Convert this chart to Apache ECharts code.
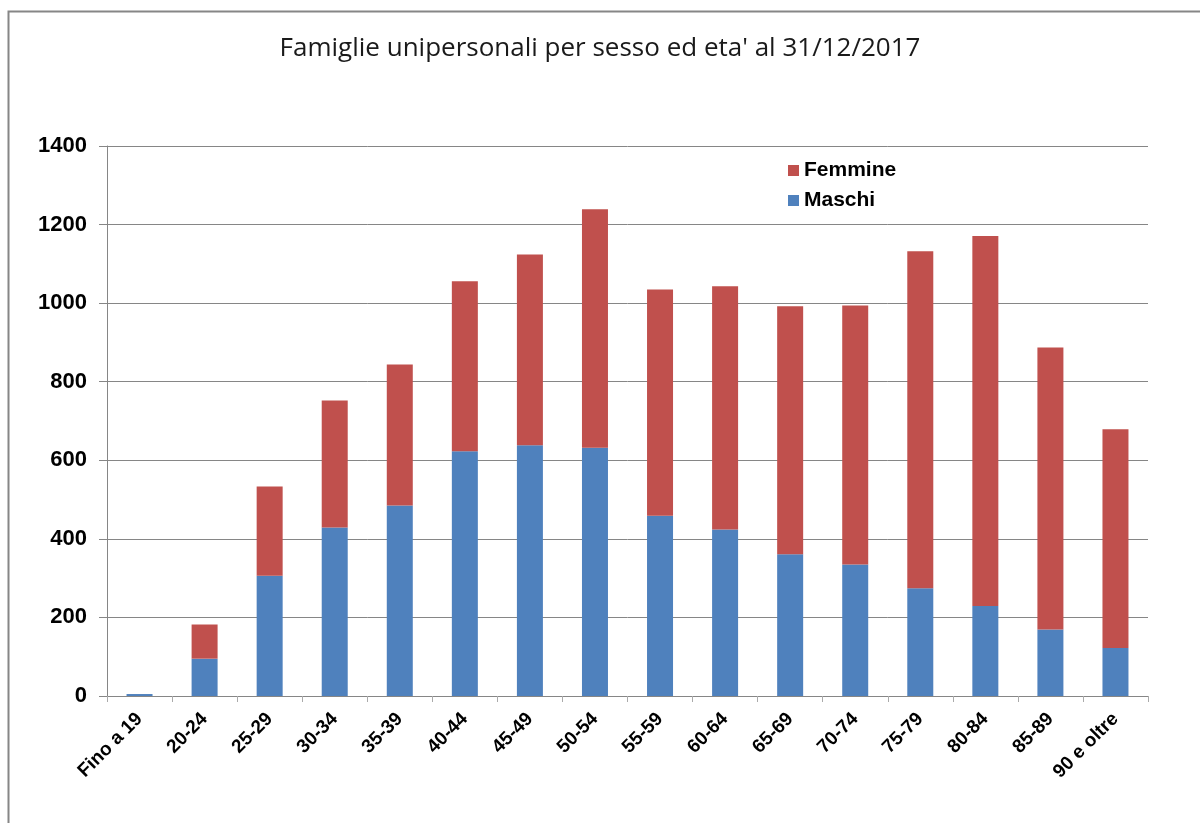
<!DOCTYPE html>
<html>
<head>
<meta charset="utf-8">
<script src="https://cdn.jsdelivr.net/npm/echarts@6/dist/echarts.min.js"></script>
<style>
  html, body { margin: 0; padding: 0; background: #fff; }
  #main { width: 1200px; height: 823px; }
</style>
</head>
<body>
<div id="main"></div>
<script>
const categories = ["Fino a 19", "20-24", "25-29", "30-34", "35-39", "40-44", "45-49", "50-54",
  "55-59", "60-64", "65-69", "70-74", "75-79", "80-84", "85-89", "90 e oltre"];
const maschi = [5, 95, 306, 429, 485, 623, 638, 632, 459, 424, 361, 335, 274, 229, 169, 122];
const femmine = [0, 87, 227, 323, 359, 433, 486, 607, 576, 619, 631, 659, 858, 942, 718, 557];
const yTicks = [0, 200, 400, 600, 800, 1000, 1200, 1400];

const chartDom = document.getElementById("main");
const myChart = echarts.init(chartDom, null, { renderer: "canvas" });

const gridColor = "#868686";
const labelFont = "'Liberation Sans', Arial, sans-serif";

let option = {
  animation: false,
  backgroundColor: "#fff",
  title: {
    text: "Famiglie unipersonali per sesso ed eta' al 31/12/2017",
    left: "center",
    top: 31,
    textStyle: {
      fontFamily: "'Open Sans', sans-serif",
      fontWeight: "normal",
      fontSize: 26,
      color: "#1a1a1a",
    },
  },
  legend: {
    orient: "vertical",
    left: 783,
    top: 155,
    itemWidth: 11,
    itemHeight: 11,
    itemGap: 9,
    icon: "rect",
    data: ["Femmine", "Maschi"],
    textStyle: {
      fontFamily: labelFont,
      fontWeight: "bold",
      fontSize: 21,
      lineHeight: 21,
      color: "#000",
    },
  },
  grid: {
    left: 107,
    right: 52,
    top: 146,
    bottom: 127,
  },
  xAxis: {
    type: "category",
    data: categories,
    axisLine: { lineStyle: { color: gridColor, width: 1 } },
    axisTick: { show: true, length: 6, lineStyle: { color: "#aaa" } },
    axisLabel: {
      rotate: 45,
      interval: 0,
      margin: 20,
      fontFamily: labelFont,
      fontWeight: "bold",
      fontSize: 19,
      color: "#000",
    },
  },
  yAxis: {
    type: "value",
    min: yTicks[0],
    max: yTicks[yTicks.length - 1],
    interval: 200,
    axisLine: { show: true, lineStyle: { color: gridColor, width: 1 } },
    axisTick: { show: true, length: 8, lineStyle: { color: gridColor } },
    splitLine: { lineStyle: { color: gridColor, width: 1 } },
    axisLabel: {
      margin: 20,
      fontFamily: labelFont,
      fontWeight: "bold",
      fontSize: 22,
      color: "#000",
      formatter: (v) => String(v),
    },
  },
  series: [
    {
      name: "Maschi",
      type: "bar",
      stack: "tot",
      data: maschi,
      barWidth: 26,
      itemStyle: { color: "#4F81BD" },
    },
    {
      name: "Femmine",
      type: "bar",
      stack: "tot",
      data: femmine,
      barWidth: 26,
      itemStyle: { color: "#C0504D" },
    },
  ],
  graphic: [
    {
      type: "polyline",
      shape: { points: [[8.5, 823], [8.5, 11.5], [1200, 11.5]] },
      style: { stroke: gridColor, lineWidth: 2, fill: null },
      silent: true,
    },
  ],
};

option && myChart.setOption(option);
</script>
</body>
</html>
